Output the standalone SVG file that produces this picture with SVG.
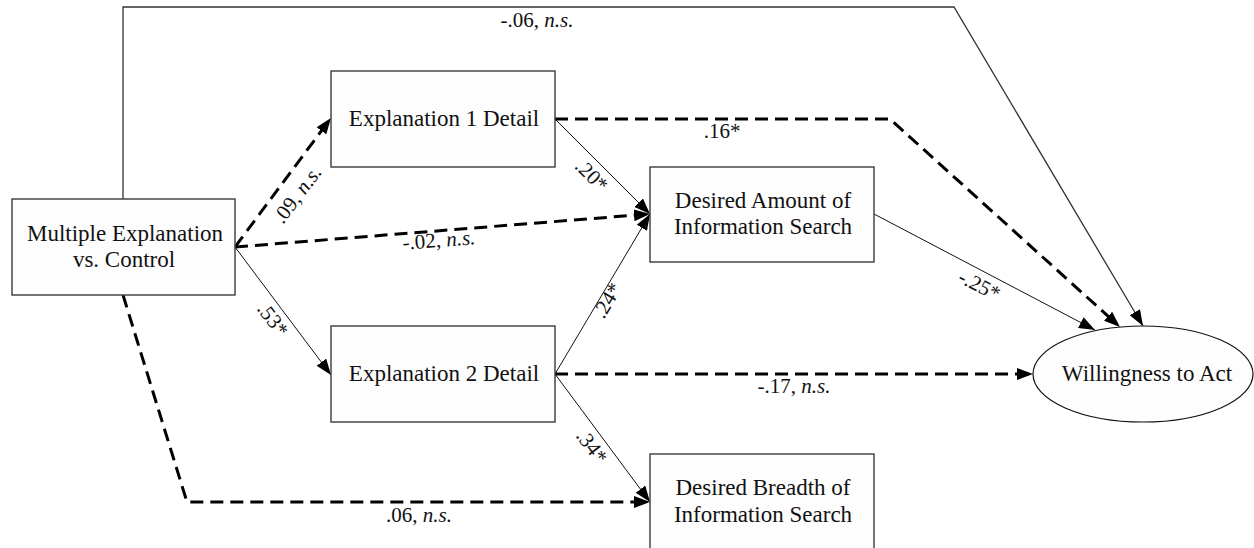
<svg xmlns="http://www.w3.org/2000/svg" width="1254" height="548" viewBox="0 0 1254 548">
<style>
.box{fill:#fdfdfd;stroke:#3a3a3a;stroke-width:1.4}
.nt{font-family:"Liberation Serif","Times New Roman",serif;font-size:23px;fill:#111;text-anchor:middle}
.lb{font-family:"Liberation Serif","Times New Roman",serif;font-size:21px;fill:#111;text-anchor:middle}
.it{font-style:italic}
.sol{fill:none;stroke:#111;stroke-width:1}
.top{fill:none;stroke:#333;stroke-width:1.3}
.dsh{fill:none;stroke:#000;stroke-width:3;stroke-dasharray:13 7}
</style>
<defs>
<marker id="as" markerUnits="userSpaceOnUse" markerWidth="16" markerHeight="12" refX="16" refY="6" orient="auto"><path d="M0,0 L16,6 L0,12 z" fill="#000"/></marker>
<marker id="ad" markerUnits="userSpaceOnUse" markerWidth="16" markerHeight="12" refX="12" refY="6" orient="auto"><path d="M0,0 L16,6 L0,12 z" fill="#000"/></marker>
</defs>
<rect width="1254" height="548" fill="#fff"/>
<g id="connectors">
<path class="top" d="M123,199 L123,7 L954,7 L1143,326" marker-end="url(#as)"/>
<path class="dsh" d="M235,247 L328.6,121.2" marker-end="url(#ad)"/>
<path class="dsh" d="M235,247 L646,214.3" marker-end="url(#ad)"/>
<path class="sol" d="M235,247 L331,375" marker-end="url(#as)"/>
<path class="dsh" d="M123,295 L187,502 L646,502" marker-end="url(#ad)"/>
<path class="sol" d="M555,119 L650,214" marker-end="url(#as)"/>
<path class="dsh" d="M555,119 L890,119 L1117,324.3" marker-end="url(#ad)"/>
<path class="sol" d="M874,214 L1095,330" marker-end="url(#as)"/>
<path class="sol" d="M555,374 L650,214" marker-end="url(#as)"/>
<path class="dsh" d="M555,374 L1029,374" marker-end="url(#ad)"/>
<path class="sol" d="M555,374 L650,502" marker-end="url(#as)"/>
<text class="lb" x="537" y="27">-.06, <tspan class="it">n.s.</tspan></text>
<text class="lb" x="722" y="138">.16*</text>
<text class="lb" transform="translate(298,195) rotate(-53)" y="6">.09, <tspan class="it">n.s.</tspan></text>
<text class="lb" transform="translate(439,241) rotate(-4.5)" y="6">-.02, <tspan class="it">n.s.</tspan></text>
<text class="lb" transform="translate(591,176) rotate(45)" y="6">.20*</text>
<text class="lb" transform="translate(272,320) rotate(53)" y="6">.53*</text>
<text class="lb" transform="translate(608,301) rotate(-59)" y="6">.24*</text>
<text class="lb" transform="translate(979,286) rotate(27)" y="6">-.25*</text>
<text class="lb" transform="translate(591,447) rotate(53)" y="6">.34*</text>
<text class="lb" x="794" y="393">-.17, <tspan class="it">n.s.</tspan></text>
<text class="lb" x="419" y="522">.06, <tspan class="it">n.s.</tspan></text>
</g>
<g id="node-multiple">
<rect class="box" x="12" y="199" width="223" height="96"/>
<text class="nt" x="125" y="241">Multiple Explanation</text>
<text class="nt" x="124" y="267">vs. Control</text>
</g>
<g id="node-exp1">
<rect class="box" x="331" y="71" width="224" height="96"/>
<text class="nt" x="444" y="126">Explanation 1 Detail</text>
</g>
<g id="node-exp2">
<rect class="box" x="331" y="326" width="224" height="96"/>
<text class="nt" x="444" y="381">Explanation 2 Detail</text>
</g>
<g id="node-amount">
<rect class="box" x="650" y="167" width="224" height="95"/>
<text class="nt" x="763" y="208">Desired Amount of</text>
<text class="nt" x="763" y="234">Information Search</text>
</g>
<g id="node-breadth">
<rect class="box" x="650" y="454" width="224" height="96"/>
<text class="nt" x="763" y="495">Desired Breadth of</text>
<text class="nt" x="763" y="522">Information Search</text>
</g>
<g id="node-willingness">
<ellipse class="box" cx="1143" cy="374" rx="110" ry="48" style="stroke:#111;stroke-width:1.2"/>
<text class="nt" x="1147" y="381">Willingness to Act</text>
</g>
</svg>
